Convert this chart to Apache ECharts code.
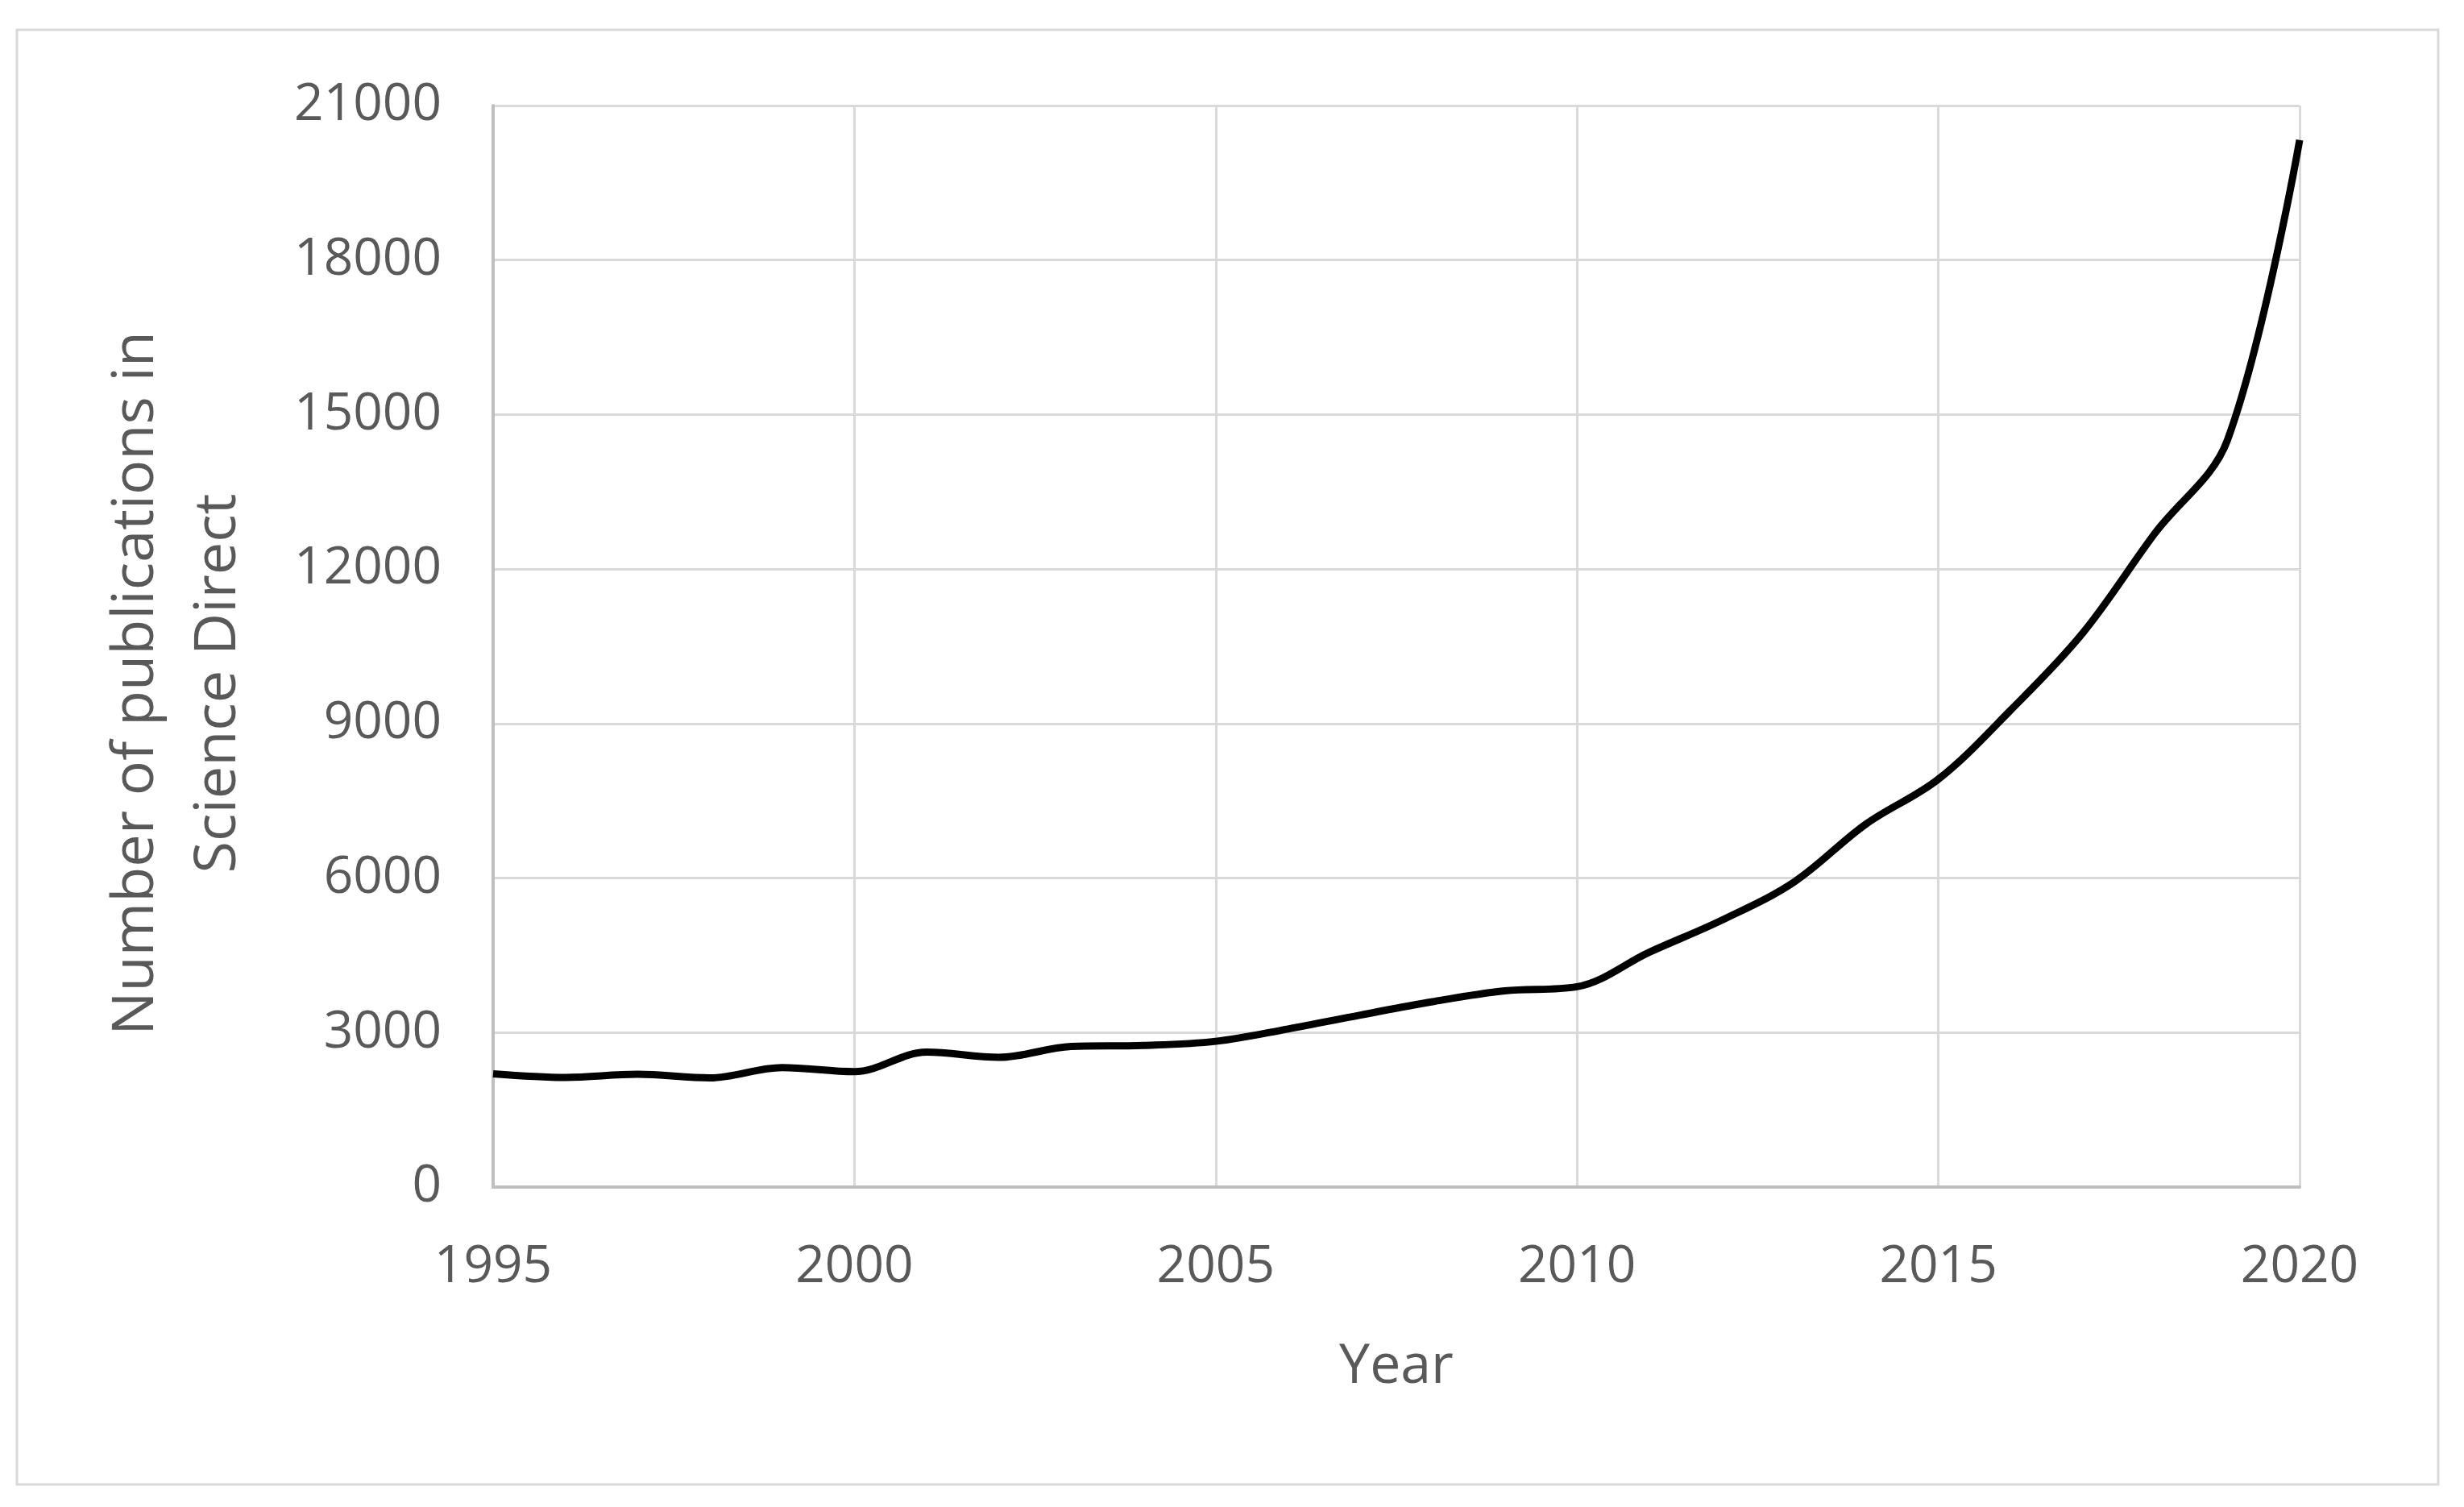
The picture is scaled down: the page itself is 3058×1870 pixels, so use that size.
<!DOCTYPE html>
<html>
<head>
<meta charset="utf-8">
<script src="https://cdn.jsdelivr.net/npm/echarts@6/dist/echarts.min.js"></script>
<style>
html,body{margin:0;padding:0;background:#fff;}
#chart{width:3058px;height:1870px;}
</style>
</head>
<body>
<div id="chart"></div>
<script>
var years = [1995,1996,1997,1998,1999,2000,2001,2002,2003,2004,2005,2006,2007,2008,2009,2010,2011,2012,2013,2014,2015,2016,2017,2018,2019,2020];
var publications = [2200,2130,2190,2120,2320,2240,2620,2520,2730,2750,2830,3070,3340,3600,3810,3890,4560,5180,5920,7050,7920,9260,10760,12700,14500,20330];
var yTicks = [0,3000,6000,9000,12000,15000,18000,21000];
var xTitle = 'Year';
var yTitle = 'Number of publications in\nScience Direct';

var chart = echarts.init(document.getElementById('chart'));
var font = '"Open Sans", "Noto Sans", sans-serif';
var seriesData = years.map(function(y,i){return [y, publications[i]];});

chart.setOption({
  animation:false,
  backgroundColor:'#ffffff',
  graphic:[{
    type:'rect',
    shape:{x:21,y:37,width:3005,height:1805},
    style:{fill:'none',stroke:'#d9d9d9',lineWidth:3},
    silent:true
  }],
  grid:{left:612,right:204,top:131,bottom:397,containLabel:false},
  xAxis:{
    type:'value',
    min:1995,max:2020,interval:5,
    name:xTitle,
    nameLocation:'middle',
    nameGap:190,
    nameTextStyle:{color:'#595959',fontSize:68,fontFamily:font},
    axisLine:{show:true,lineStyle:{color:'#bfbfbf',width:4}},
    axisTick:{show:false},
    axisLabel:{color:'#595959',fontSize:64,fontFamily:font,margin:68,formatter:function(v){return String(v);}},
    splitLine:{show:true,lineStyle:{color:'#d9d9d9',width:3}}
  },
  yAxis:{
    type:'value',
    min:yTicks[0],max:yTicks[yTicks.length-1],interval:3000,
    name:yTitle,
    nameLocation:'middle',
    nameGap:290,
    nameRotate:90,
    nameTextStyle:{color:'#595959',fontSize:72,fontFamily:font,lineHeight:102,align:'center',padding:[0,92,0,0]},
    axisLine:{show:true,lineStyle:{color:'#bfbfbf',width:4}},
    axisTick:{show:false},
    axisLabel:{color:'#595959',fontSize:64,fontFamily:font,margin:64,formatter:function(v){return String(v);}},
    splitLine:{show:true,lineStyle:{color:'#d9d9d9',width:3}}
  },
  series:[{
    type:'line',
    data:seriesData,
    smooth:0.35,
    showSymbol:false,
    symbol:'none',
    lineStyle:{color:'#000000',width:9}
  }]
});
</script>
</body>
</html>
